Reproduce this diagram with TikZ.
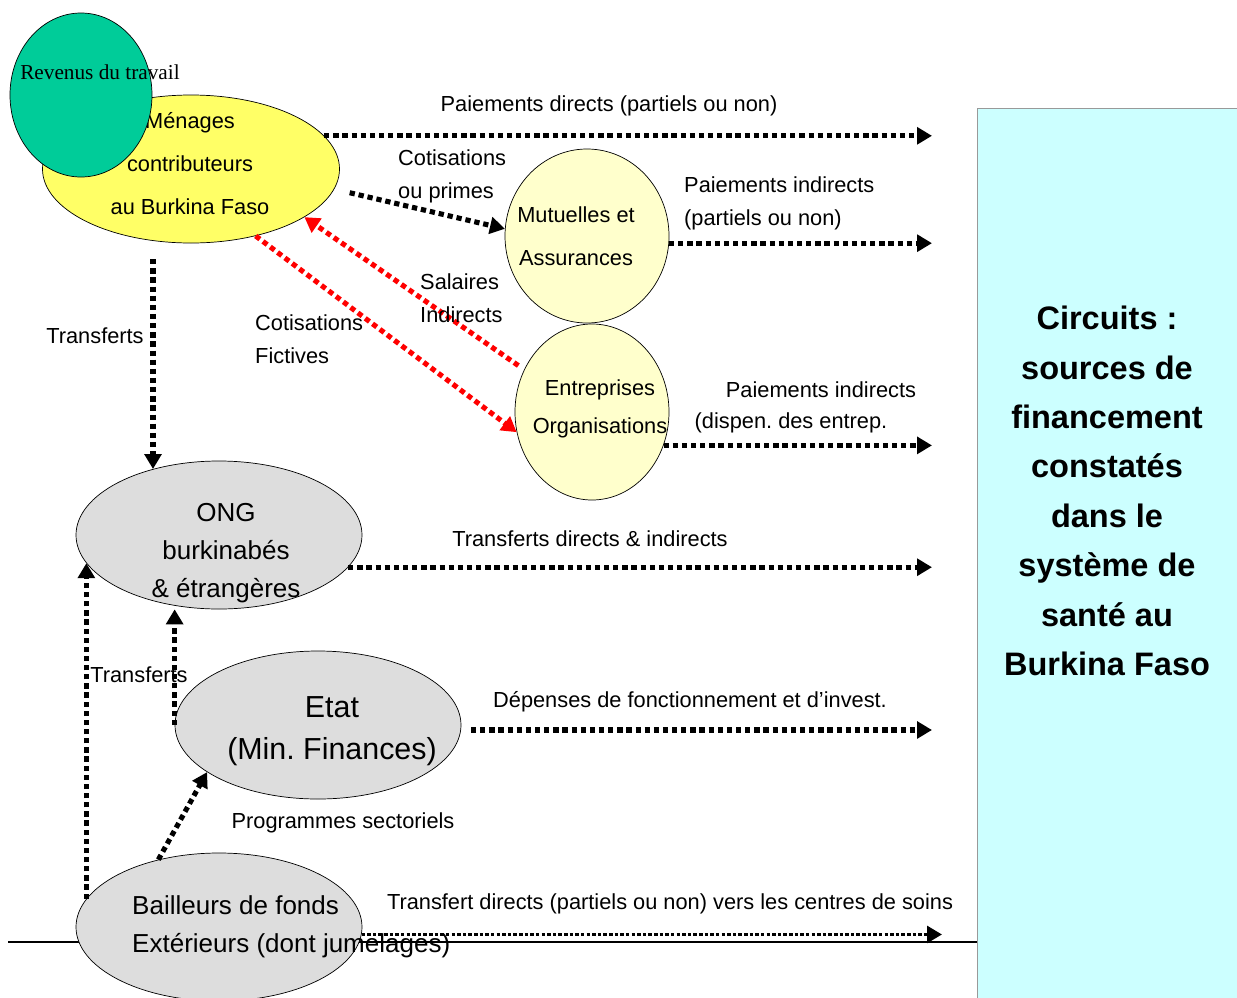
\documentclass[tikz,border=0pt]{standalone}
\usepackage{fontspec}
\setmainfont{Liberation Sans}
\newfontfamily\timesfont{Liberation Serif}
\usetikzlibrary{shapes.geometric,arrows.meta}
\definecolor{vert}{RGB}{0,204,153}
\definecolor{jaune}{RGB}{255,255,102}
\definecolor{jaunepale}{RGB}{255,255,204}
\definecolor{gris}{RGB}{221,221,221}
\definecolor{ciel}{RGB}{204,255,255}
\frenchspacing
\begin{document}
\begin{tikzpicture}[scale=0.2]
        \tikzstyle{every node}+=[inner sep=0.5pt]
        \tikzstyle{bulle}=[ellipse, draw=black, line width=0.4pt, inner sep=0pt]
        \tikzstyle{texte}=[font=\fontsize{12.4}{18.7}\selectfont]
        \tikzstyle{fleche}=[black, line width=2.9pt, dash pattern=on 3pt off 2.2pt, -{Triangle[length=8.5pt,width=9.5pt]}]
        \tikzstyle{rouge}=[fleche, red]
        \useasboundingbox (0,0) rectangle (123.7,-99.7);
        \coordinate (fin) at (93.2,0);
        \coordinate (fin2) at (94.2,0);
        % ligne du bas et cadre de droite
        \draw [black, line width=1.2pt] (0.8,-94.2) -- (97.7,-94.2);
        \draw [draw=gray!80, line width=0.5pt, fill=ciel] (97.7,-10.8) rectangle (123.7,-100);
        \node [font=\bfseries\fontsize{18.5}{28.1}\selectfont, align=center] (titre) at (110.7,-49.1) {Circuits :\\sources de\\financement\\constatés\\dans le\\système de\\santé au\\Burkina Faso};
        % les acteurs
        \node [bulle, fill=jaune, minimum width=5.94cm, minimum height=2.96cm] (men) at (19.1,-16.9) {};
        \node [font=\fontsize{12.4}{24.4}\selectfont, align=center] (ment) at (19.0,-16.35) {Ménages\\contributeurs\\au Burkina Faso};
        \node [bulle, fill=vert, minimum width=2.84cm, minimum height=3.28cm] (rev) at (8.1,-9.5) {};
        \node [font=\timesfont\fontsize{12.1}{14}\selectfont] (revt) at (10.0,-7.2) {Revenus du travail};
        \node [bulle, fill=jaunepale, minimum width=3.28cm, minimum height=3.48cm] (mut) at (58.7,-23.6) {};
        \node [font=\fontsize{12.4}{24.4}\selectfont, align=center] (mutt) at (57.6,-23.6) {Mutuelles et\\Assurances};
        \node [bulle, fill=jaunepale, minimum width=3.08cm, minimum height=3.52cm] (ent) at (59.2,-41.2) {};
        \node [font=\fontsize{12.4}{21.5}\selectfont, align=center] (entt) at (60.0,-40.9) {Entreprises\\Organisations};
        \node [bulle, fill=gris, minimum width=5.72cm, minimum height=2.96cm] (ong) at (21.9,-53.5) {};
        \node [font=\fontsize{14.8}{21.5}\selectfont, align=center] (ongt) at (22.6,-55.3) {ONG\\burkinabés\\\& étrangères};
        \node [bulle, fill=gris, minimum width=5.72cm, minimum height=2.96cm] (etat) at (31.8,-72.5) {};
        \node [font=\fontsize{17.3}{23.8}\selectfont, align=center] (etatt) at (33.2,-73.1) {Etat\\(Min. Finances)};
        \node [bulle, fill=gris, minimum width=5.72cm, minimum height=2.96cm] (bail) at (21.9,-92.7) {};
        \node [font=\fontsize{14.8}{21.5}\selectfont, align=left, anchor=west] (bailt) at (13.1,-92.7) {Bailleurs de fonds\\Extérieurs (dont jumelages)};
        % les flux
        \draw [fleche] (men.14) -- (men.14 -| fin);
        \draw [fleche, shorten <=9pt] (men.-8) -- (mut.175);
        \draw [fleche] (mut.-5) -- (mut.-5 -| fin);
        \draw [rouge, shorten <=4pt] (ent.148) -- (men.-23);
        \draw [rouge] (men.-46) -- (ent.195);
        \draw [fleche] (ent.-25) -- (ent.-25 -| fin);
        \draw [fleche, shorten <=9pt] (ong.135 |- men.south) -- (ong.135);
        \draw [fleche] (ong.-14) -- (ong.-14 -| fin);
        \draw [fleche] (etat.west) -- (etat.west |- ong.south);
        \draw [fleche] (bail.168) -- (ong.192);
        \draw [fleche] (bail.132) -- (etat.203);
        \draw [fleche, shorten <=5.7pt] (etat.-2) -- (etat.-2 -| fin);
        \draw [fleche, line width=2pt, dash pattern=on 2pt off 1.2pt] (bail.-3) -- (bail.-3 -| fin2);
        % les libelles
        \node [texte] (l1) at (60.9,-10.6) {Paiements directs (partiels ou non)};
        \node [texte, align=left, anchor=west] (l2) at (39.7,-17.65) {Cotisations\\ou primes};
        \node [texte, align=left, anchor=west] (l3) at (68.3,-20.35) {Paiements indirects\\(partiels ou non)};
        \node [texte, align=left, anchor=west] (l4) at (41.9,-29.85) {Salaires\\Indirects};
        \node [texte, align=left, anchor=west] (l5) at (25.4,-33.9) {Cotisations\\Fictives};
        \node [texte] (l6) at (82.1,-39.0) {Paiements indirects};
        \node [texte] (l7) at (79.1,-42.3) {(dispen. des entrep.};
        \node [texte] (l8) at (9.5,-33.6) {Transferts};
        \node [texte] (l9) at (59.0,-53.9) {Transferts directs \& indirects};
        \node [texte] (l10) at (13.9,-67.5) {Transferts};
        \node [texte] (l11) at (69.0,-70.2) {Dépenses de fonctionnement et d’invest.};
        \node [texte] (l12) at (34.3,-82.3) {Programmes sectoriels};
        \node [texte] (l13) at (67.0,-90.4) {Transfert directs (partiels ou non) vers les centres de soins};
    \end{tikzpicture}
\end{document}
